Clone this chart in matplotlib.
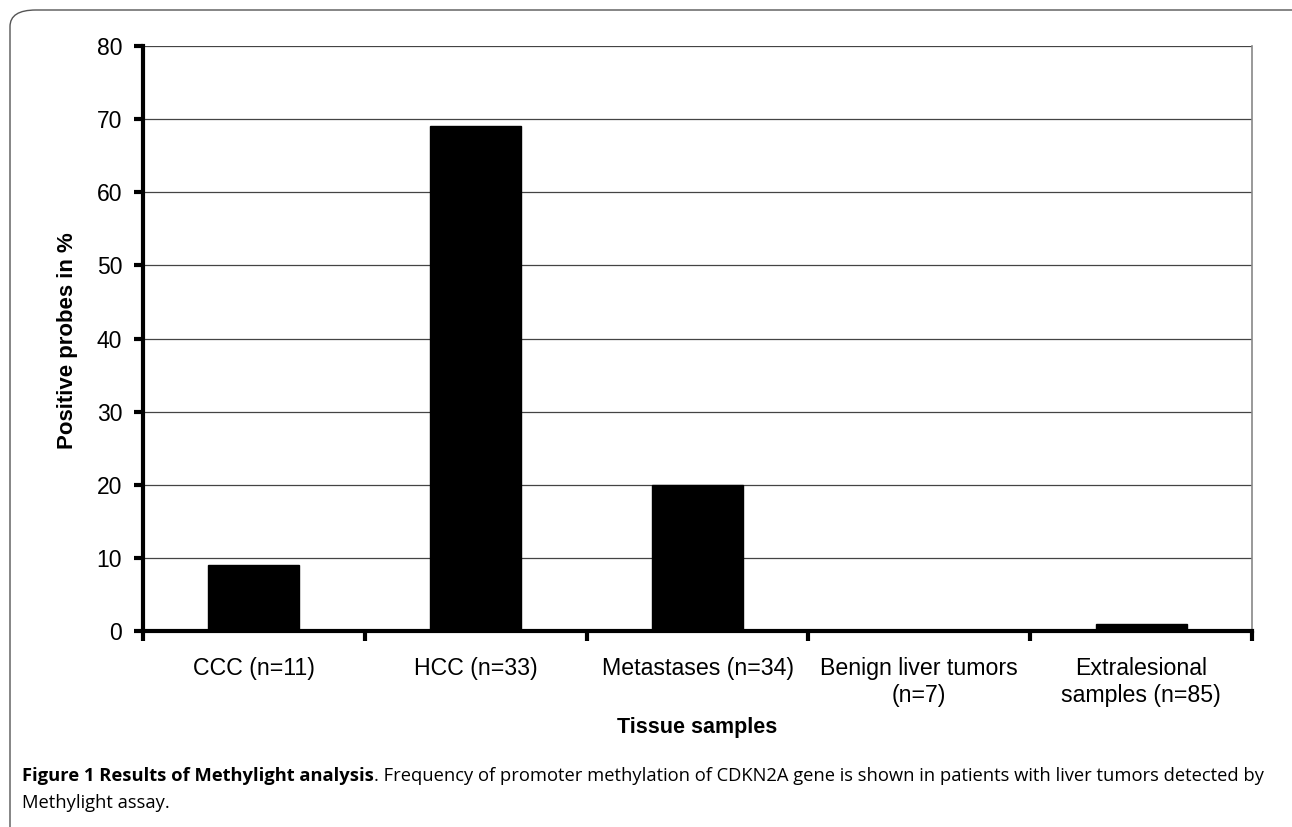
import matplotlib
matplotlib.use("Agg")
import matplotlib.pyplot as plt
from matplotlib.patches import FancyBboxPatch
from matplotlib.ticker import FixedLocator
import numpy as np

categories = ["CCC (n=11)", "HCC (n=33)", "Metastases (n=34)",
              "Benign liver tumors\n(n=7)", "Extralesional\nsamples (n=85)"]
values = [9, 69, 20, 0, 1]
yticks = [0, 10, 20, 30, 40, 50, 60, 70, 80]

W, H = 1292, 827
fig = plt.figure(figsize=(W / 100, H / 100), dpi=100)
plt.rcParams['font.family'] = ['Liberation Sans', 'DejaVu Sans']

# rounded frame
frame = FancyBboxPatch((10 / W, -0.1), 1.2, 1.1 - 10 / H,
                       boxstyle="round,pad=0,rounding_size=0.02",
                       transform=fig.transFigure, fill=False,
                       edgecolor="#555555", linewidth=1.0)
fig.patches.append(frame)

ax = fig.add_axes([143 / W, 1 - 631 / H, (1252 - 143) / W, (631 - 46) / H])
x = np.arange(len(categories))
ax.bar(x, values, width=0.41, color="black", edgecolor="black", zorder=3)
ax.set_xlim(-0.5, len(categories) - 0.5)
ax.set_ylim(0, 80)
ax.set_yticks(yticks)
ax.yaxis.grid(True, color="#444444", linewidth=0.9, zorder=0)
ax.set_axisbelow(True)

for s in ["left", "bottom"]:
    ax.spines[s].set_linewidth(3)
    ax.spines[s].set_color("black")
ax.spines["top"].set_visible(False)
ax.spines["right"].set_color("#888888")
ax.spines["right"].set_linewidth(1.2)

ax.set_xticks(x)
ax.set_xticklabels(categories, fontsize=16.7, linespacing=1.2)
ax.xaxis.set_minor_locator(FixedLocator(np.arange(-0.5, len(categories), 1.0)))
ax.tick_params(axis="x", which="major", length=0, pad=19)
ax.tick_params(axis="x", which="minor", length=7, width=3, direction="out")
ax.tick_params(axis="y", length=6.5, width=3, direction="out", labelsize=16.5, pad=8.5)

fig.text(67 / W, 1 - 341 / H, "Positive probes in %", fontsize=16, fontweight="bold",
         rotation=90, ha="center", va="center")
fig.text(697.5 / W, 1 - 728 / H, "Tissue samples", fontsize=15.5, fontweight="bold",
         ha="center", va="center")

cap_font = ['Open Sans', 'DejaVu Sans']
t1 = fig.text(22 / W, 1 - 776 / H, "Figure 1 Results of Methylight analysis",
              fontsize=13.2, fontweight="bold", family=cap_font, va="center")
fig.canvas.draw()
bb = t1.get_window_extent()
fig.text(bb.x1 / W, 1 - 776 / H,
         ". Frequency of promoter methylation of CDKN2A gene is shown in patients with liver tumors detected by",
         fontsize=13.2, family=cap_font, va="center")
fig.text(22 / W, 1 - 803 / H, "Methylight assay.", fontsize=13.2, family=cap_font, va="center")

fig.savefig("out.png", dpi=100)
